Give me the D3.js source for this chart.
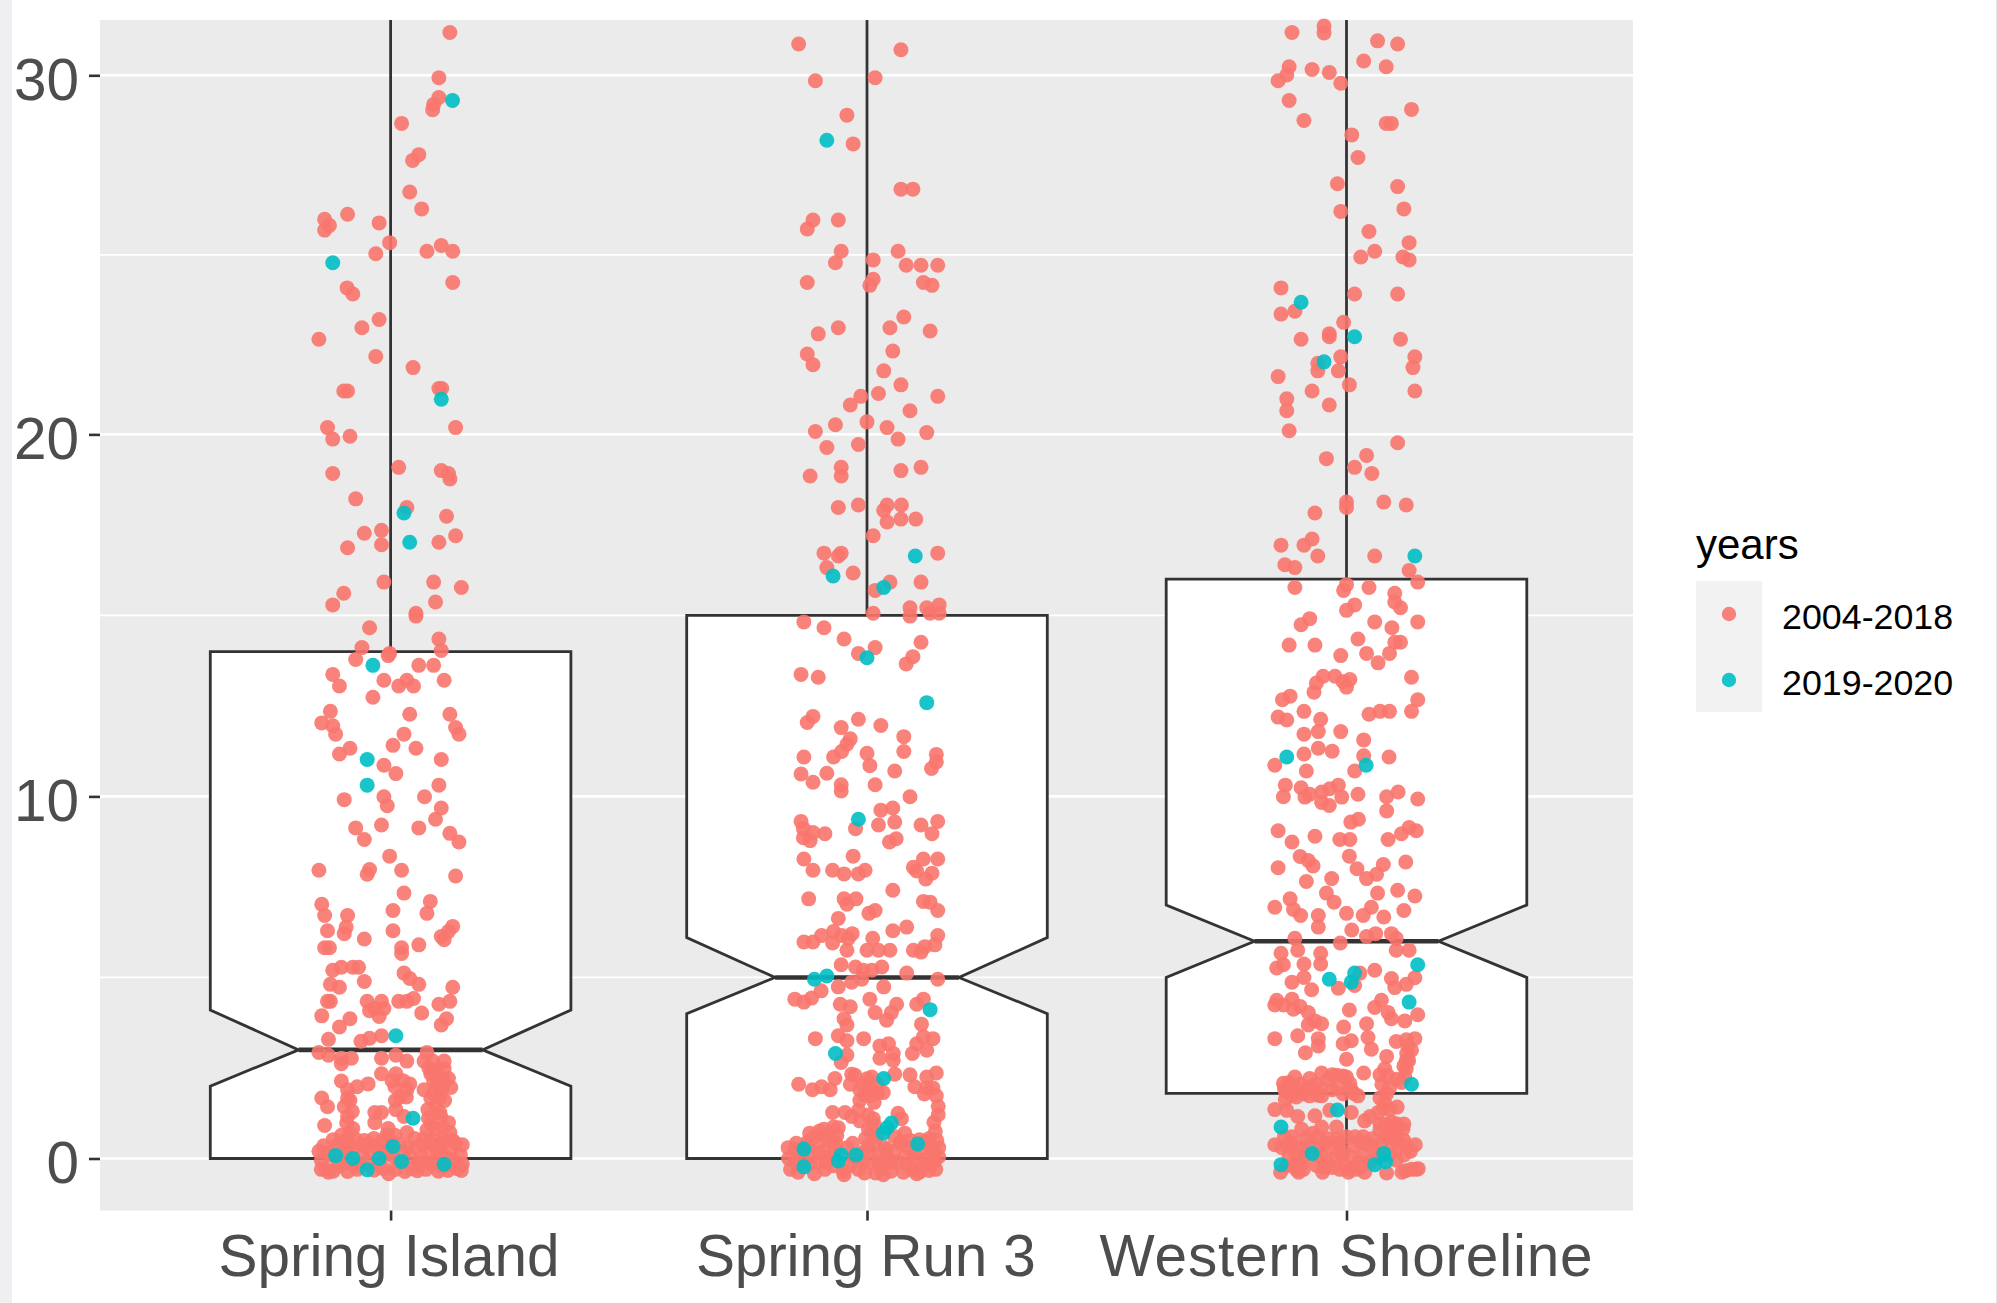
<!DOCTYPE html>
<html><head><meta charset="utf-8">
<script src="https://cdn.jsdelivr.net/npm/d3@7"></script>
<style>html,body{margin:0;padding:0;background:#fff}svg{display:block}</style>
</head><body><div id="chart"></div>
<script>
// ---- data: [jitter in hundredths of a category step, value] ----
const categories = ["Spring Island", "Spring Run 3", "Western Shoreline"];
const yearGroups = ["2004-2018", "2019-2020"];
const yTicks = [0, 10, 20, 30];
const yMinorTicks = [5, 15, 25];
const boxLower = [0, 0, 1.8];
const notchLower = [2, 4, 5];
const boxMiddle = [3, 5, 6];
const notchUpper = [4.1, 6.1, 7];
const boxUpper = [14, 15, 16];
const whiskerLow = [0, 0, 0];
const whiskerHigh = [36, 37, 40];

const islandEarlier = [[12.4,31.19],[10.1,29.93],[10.1,29.38],[9,29.19],[8.8,29.04],[2.3,28.66],[5.9,27.79],[4.6,27.63],[4,26.75],[6.5,26.28],[-9,26.13],[-2.4,25.89],[-13.8,25.99],[-12.8,25.82],[-13.8,25.69],[-.2,25.34],[10.6,25.26],[7.6,25.1],[13,25.1],[-3.1,25.03],[13,24.23],[-9.1,24.08],[-7.9,23.91],[-2.4,23.2],[-6,22.97],[-15,22.65],[-3.1,22.17],[4.7,21.86],[-9,21.21],[-9.8,21.21],[10.1,21.28],[10.7,21.28],[-13.2,20.19],[13.6,20.19],[-8.5,19.95],[-12.1,19.87],[1.7,19.09],[-12.1,18.92],[10.6,19],[12.1,18.92],[12.4,18.77],[-7.3,18.22],[3.4,17.98],[11.7,17.74],[-1.9,17.35],[-5.5,17.27],[13.6,17.2],[-1.9,16.95],[-9,16.87],[10.1,17.02],[-1.4,15.92],[9,15.92],[14.8,15.77],[-9.8,15.61],[9.4,15.37],[-12.1,15.29],[5.3,15.06],[5.3,14.98],[-4.4,14.66],[10.1,14.35],[-6,14.11],[10.6,14.03],[-.2,13.95],
[-7.3,13.78],[-.5,13.89],[5.9,13.62],[9,13.62],[-12.1,13.37],[-10.7,13.05],[-1.4,13.21],[1.7,13.05],[3.4,13.21],[4.8,13.05],[11.2,13.21],[-3.7,12.74],[-12.6,12.35],[4,12.27],[12.4,12.27],[-14.4,12.03],[-12.1,11.95],[-11.5,11.72],[13.6,11.9],[14.3,11.72],[2.8,11.72],[.5,11.41],[5.3,11.33],[-8.5,11.33],[-10.7,11.17],[10.6,11.02],[-1.4,10.86],[1.1,10.63],[10.1,10.31],[7.1,9.99],[-1.4,9.99],[-9.7,9.91],[-.7,9.74],[10.6,9.68],[9.4,9.37],[-1.9,9.21],[-7.3,9.13],[5.9,9.13],[12.4,8.98],[-5.5,8.81],[14.3,8.74],[-.2,8.35],[-15,7.96],[-4.4,7.98],[-4.9,7.85],[2.3,7.96],[13.6,7.8],[2.8,7.33],[8.3,7.1],[-14.4,7.02],[.5,6.85],[7.6,6.77],[-13.8,6.71],[-9,6.71],[13,6.41],[-13.2,6.29],[-9.3,6.39],[-9.7,6.21],[.5,6.29],[12.1,6.27],[10.6,6.13],[11.2,6.04],[-5.5,6.06],[5.9,5.9],[2.3,5.82],[-13.8,5.82],[-12.8,5.82],[2.3,5.66],[-12.1,5.2],[-10.3,5.28],[-7.9,5.28],[-6.7,5.28],[2.8,5.12],[4,4.97],[5.9,4.81],[-12.6,4.81],[-10.7,4.73],[-5.5,4.89],[13,4.73],[-4.9,4.34],[-12.6,4.34],[-13.2,4.34],[-1.9,4.34],[1.7,4.34],[3.4,4.34],[4.8,4.42],[12.4,4.34],[10.1,4.26],[-3.3,4.14],[-1.4,4.14],[-2.4,3.92],[-4.4,4.08],[6.5,4.02],[-14.4,3.94],[-8.5,3.86],[11.7,3.86],[10.6,3.69],[-10.7,3.63],[-1.9,3.39],[-4.4,3.32],[-6.2,3.24],[-13,3.29],[7.6,2.93],[-15,2.93],[-13,2.85],[-10.3,2.77],[-8.2,2.77],[-10.3,2.62],[-1.9,2.77],[1.1,2.85],[3.4,2.69],[7,2.69],[8.8,2.69],[11.2,2.69],[-1.9,2.34],[1.1,2.34],[8.4,2.34],[11.2,2.48],[12.1,2.21],[-10.3,2.14],[-4.7,2.06],[-7,1.98],[-9,1.9],[.9,1.98],[4,2.06],[7,1.9],[3.4,1.9],[10.7,1.9],[12.6,1.96],[9.8,2.06],[-14.4,1.67],[-9,1.67],[8.4,1.67],[10.3,1.67],[-13.2,1.43],[-9.7,1.43],[-9,1.16],[1.1,1.35],[-3.3,1.27],[-1.9,1.27],[2.8,1.16],[7.9,1.11],[10.3,1.27],[-3.3,.99],[-.5,.83],[-13.8,.91],[-7.9,.83],[12.1,.99],[-10.3,.64],[.9,.64],[3.4,.72],[7.6,.79],[12.4,.72],
[8,2.5],[9.5,2.45],[11,2.2],[9,2.15],[10.8,1.98],[9,1.8],[11.3,1.6],[9.4,1.45],[7.8,1.35],[10.5,1.15],[8.5,.95],[9.5,.82],[11,.85],[-8.5,1.6],[-8,1.3],[-9.2,.98],[-8.6,.7],[-9.5,.5],[-7.5,.55],[-5.5,.5],[-3.5,.55],[-1.5,.5],[-.8,.65],[1,1.6],[2,1.7],[.3,2.15],[2.6,2.15],[3.3,1.7],[-.2,.5],[5,.55],[7,.55],[9,.52],[11,.5],[13,.5],[-12,.52],
[-15,.2],[-14.5,-.05],[-14,.35],[-13.5,-.3],[-12.6,.1],[-12,-.35],[-11,.38],[-10.5,-.2],[-9.8,.25],[-9,-.36],[-8.6,.4],[-7.5,.3],[-7,-.3],[-6,.38],[-5.8,.1],[-5,-.1],[-4.5,.42],[-3.5,-.32],[-3,.3],[-2,.4],[-1.4,-.28],[-.8,.12],[-.4,-.42],[.6,.05],[1,-.3],[1.8,.4],[2.8,.2],[3,-.36],[4,.05],[4.6,-.28],[5.4,.32],[5.6,-.34],[6.4,.05],[6.8,.38],[7.4,-.3],[8,.2],[8.4,.42],[9,-.1],[9.5,.3],[10,-.35],[10.8,.42],[11.4,.05],[12,-.33],[12.6,.25],[13,-.05],[13.6,.42],[14,-.28],[14.6,.1],[15,.38],[15,-.15],[-13,.15],[-11,-.1],[-9,.1],[-8,-.15],[-6.5,-.2],[-4.4,.2],[-2.5,-.15],[-1.5,.15],[0,.2],[2,-.1],[3.6,.32],[6,-.1],[8.4,-.15],[10,.15],[11,-.2],[12.5,-.15],[14.8,-.33],[-14.5,-.3],[-13,-.38]];
const islandRecent = [[12.95,29.3],[-12.1,24.78],[10.6,20.98],[2.8,17.83],[4,17.02],[-3.7,13.62],[-4.9,11.02],[-4.9,10.31],[1.1,3.39],[4.7,1.11],[-11.5,.08],[-7.9,0],[-2.4,0],[.5,.33],[2.3,-.08],[-4.9,-.31],[11.2,-.16]];

const runEarlier = [[-14.3,30.87],[7.1,30.71],[-10.8,29.85],[1.7,29.93],[-4.2,28.89],[-2.9,28.09],[7.1,26.83],[9.6,26.83],[-11.3,25.97],[-6,25.97],[-12.5,25.72],[-5.4,25.1],[6.5,25.1],[1.3,24.86],[-6.6,24.78],[8.2,24.71],[11.3,24.71],[14.8,24.71],[-12.5,24.23],[1.3,24.32],[.6,24.15],[11.8,24.23],[13.6,24.15],[7.7,23.27],[-6,22.97],[4.8,22.97],[-10.2,22.8],[13.2,22.88],[5.4,22.32],[-12.5,22.24],[-11.3,21.94],[3.5,21.77],[7.1,21.38],[-1.3,21.06],[2.4,21.14],[14.8,21.06],[-3.5,20.82],[9,20.66],[0,20.35],[-6.6,20.27],[4.2,20.19],[-10.8,20.08],[12.5,20.05],[6.5,19.87],[-1.8,19.72],[-8.4,19.64],[-5.4,19.09],[7.1,19],[11.3,19.09],[-5.4,18.85],[-11.9,18.85],[-1.8,18.05],[4.2,18.05],[7.2,18.05],[-6,17.98],[3.5,17.9],[4.2,17.58],[7.1,17.66],[10.2,17.66],[1.3,17.2],[-9,16.72],[-5.4,16.72],[-6,16.64],[14.8,16.72],[-8.4,16.32],[-2.9,16.17],[4.8,15.92],[11.3,15.92],[1.7,15.69],[9,15.21],[12.5,15.21],[15.1,15.29],[13.2,15.06],[15.1,15.06],[9,14.98],[1.3,15.06],[-13.2,14.82],[-9,14.66],[-4.8,14.35],[11.3,14.26],[1.7,14.11],[-1.8,13.95],
[9.6,13.86],[8.2,13.66],[-13.8,13.37],[-10.2,13.29],[-11.3,12.21],[-12.5,12.04],[-1.8,12.13],[2.9,11.96],[-5.4,11.9],[7.7,11.65],[-3.5,11.59],[-4.2,11.44],[7.7,11.24],[0,11.19],[-5.3,11.24],[-7,11.09],[-13.2,11.09],[14.5,11.16],[14.5,10.95],[.6,10.85],[5.8,10.7],[13.5,10.77],[-13.8,10.62],[-8.4,10.64],[-11.3,10.39],[-5.4,10.32],[1.7,10.32],[-5.4,10.15],[9,9.99],[2.9,9.62],[5.4,9.68],[-13.8,9.31],[5.8,9.29],[14.8,9.31],[2.4,9.21],[11.3,9.21],[-13.3,9.11],[-2.4,9.11],[-11.3,9],[-8.8,8.97],[13.6,8.97],[-13.3,8.86],[-11.9,8.78],[6.1,8.83],[4.7,8.74],[-2.9,8.35],[-13.2,8.27],[11.8,8.27],[14.8,8.27],[-11.3,7.96],[-7.2,7.96],[9.7,8.04],[-.4,7.96],[-4.8,7.86],[-1.8,7.86],[13.6,7.88],[10.4,7.94],[12.3,7.72],[5.4,7.41],[-12.2,7.17],[-4.8,7.17],[-2.3,7.17],[11.8,7.1],[13.2,7.08],[-4.2,7.02],[14.8,6.85],[1.7,6.85],[.4,6.77],[-6,6.63],[8.3,6.39],[5.4,6.29],[-7,6.27],[-3.1,6.21],[-9.5,6.16],[14.8,6.16],[-5.3,6.16],[1.2,6.08],[-13.2,5.98],[-11.3,5.98],[-7.2,5.95],[-3.9,6.08],[14.2,5.9],[12.1,5.85],[-4.2,5.75],[0,5.75],[2.4,5.75],[4.8,5.75],[9.7,5.75],[11.3,5.7],[-5.4,5.35],[-2.4,5.29],[3.1,5.29],[-.8,5.2],[1,5.2],[8.3,5.12],[14.8,4.95],[-1.1,4.95],[-3.2,4.87],[-6,4.74],[3.5,4.74],[-9.6,4.63],[.6,4.4],[-11.6,4.43],[-15.1,4.4],[-13.2,4.32],[11.8,4.4],[6.2,4.26],[-5.6,4.26],[-3.5,4.19],[10.4,4.26],[1.7,4.03],[5.1,4.03],[4.1,3.82],[-4.8,3.86],[-4.2,3.69],[11.4,3.71],[-6,3.39],[-10.8,3.31],[-.7,3.31],[-4.2,3.25],[13.8,3.31],[11.8,3.36],[10.4,3.17],[4.5,3.17],[2.7,3.11],[12.5,2.99],[9.5,2.9],[5.5,2.9],[-4.2,2.86],[2.7,2.77],[5.5,2.71],[-5.4,2.65],[-3.2,2.33],[14.5,2.36],[5.8,2.33],[9,2.31],[12.5,2.25],[-6.7,2.21],[1,2.25],[-14.3,2.05],[-3.5,2.05],[-.8,2.05],[-9.5,1.98],[10,1.98],[-11.4,1.9],[-7.7,1.9],[3.4,1.82],[.6,1.73],[14.5,1.73],[14.9,1.44],[14.9,1.21],[-7.2,1.27],[-4.6,1.27],[-1.8,1.33],[6.5,1.25],[-3.2,1.16],[-1.5,1.04],[1.3,1.1],[7.2,1.1],[-7,.87],[-9,.81],[1,.75],[14.3,.75],[-12,.7],[-6.3,.64],[7.9,.7],
[-2.5,2.3],[-1.5,1.9],[0,2.2],[.8,1.95],[-.5,1.75],[2,2.05],[2.2,1.8],[-1.5,1.6],[1.5,1.55],[.2,1.2],[1.5,.95],[.3,.8],[2,.6],[-.3,.55],[-11,.6],[-10,.75],[-8,.6],[-6,.85],[-7.2,.45],[-12.5,.45],[-14.8,.42],[5.8,.6],[7,.45],[9,.5],[11,.52],[13,.55],[14.6,.5],[14,1],[12.5,1.95],[13.8,1.95],[12,1.78],
[-16.5,.3],[-16.4,0],[-16,-.3],[-15,.25],[-15,-.1],[-14.4,-.38],[-13.5,.02],[-12.2,.35],[-12,-.15],[-11.5,.1],[-11,-.42],[-10.4,.4],[-10,-.1],[-9,.2],[-8.8,-.3],[-8,.5],[-7.6,.05],[-7,-.2],[-6.5,.42],[-5,-.35],[-4.8,-.45],[-4.2,.3],[-3.6,-.2],[-3,.42],[-1.8,-.3],[-1,.15],[-.5,-.4],[.2,.35],[.6,-.1],[1.5,.45],[1.8,-.4],[2.4,.1],[3,-.3],[3.4,-.45],[3.8,.3],[4.4,0],[5,-.35],[5.6,.2],[6.2,-.1],[7,.4],[7.6,-.38],[8,.05],[8.8,.3],[9.4,-.3],[10,0],[10.4,-.42],[11,.2],[11.6,-.2],[12.2,.45],[12.6,0],[13,-.33],[13.6,.3],[14,-.1],[14.4,-.3],[15,.3],[15,.05],[-10,.15],[-8.5,-.1],[-6.8,.2],[-2.8,.05],[-.8,-.1],[.7,.2],[2.5,-.1],[4,.25],[5,-.1],[8.4,-.15],[9.8,.15],[11,-.38],[12.6,-.15],[14,.15],[-14,.2]];
const runRecent = [[-8.4,28.19],[10.1,16.64],[-7.1,16.09],[3.5,15.77],[0,13.83],[12.5,12.59],[-1.8,9.37],[-8.4,5.04],[-11,4.95],[13.2,4.11],[-6.6,2.9],[3.5,2.21],[5.1,.98],[4.2,.85],[3.4,.7],[10.6,.4],[-13.2,.26],[-5.4,.1],[-2.3,.1],[-6,-.07],[-13.2,-.23]];

const shoreEarlier = [[-11.4,31.19],[-4.7,31.37],[-4.7,31.18],[6.5,30.96],[10.7,30.87],[3.6,30.4],[-12,30.24],[8.3,30.24],[-7.2,30.16],[-3.6,30.08],[-12.5,30.01],[-14.3,29.85],[-1.2,29.78],[-12,29.3],[13.6,29.05],[-8.9,28.74],[8.3,28.66],[9.4,28.66],[1.1,28.34],[2.4,27.71],[-1.9,26.98],[10.7,26.9],[-1.2,26.21],[12,26.28],[4.7,25.65],[13.1,25.34],[5.9,25.1],[3,24.94],[11.8,24.94],[13.1,24.86],[-13.7,24.08],[1.7,23.91],[10.7,23.91],[-10.8,23.43],[-13.7,23.35],[-.6,23.12],[-3.6,22.8],[-3.6,22.72],[-9.5,22.65],[11.3,22.65],[-1.2,22.16],[14.3,22.16],[-6,21.98],[13.9,21.86],[-6,21.77],[-1.7,21.77],[-14.3,21.61],[.6,21.38],[-7.2,21.21],[14.3,21.21],[-12.5,20.99],[-3.6,20.82],[-12.5,20.66],[-12,20.1],[10.7,19.77],[4.2,19.42],[-4.2,19.33],[1.7,19.09],[5.3,18.92],[7.8,18.13],[0,18.13],[0,17.98],[12.5,18.05],[-6.6,17.83],[-7.2,17.11],[-13.7,16.94],[-8.9,16.94],[-6,16.64],[5.9,16.64],[-12.9,16.4],[-10.8,16.32],[13.1,16.24],[14.9,15.92],[0,15.85],[-.6,15.69],[-10.8,15.77],[4.7,15.77],[10.1,15.61],[10.1,15.37],[11.3,15.21],[1.7,15.29],[0,15.14],[-7.7,14.91],[-9.5,14.74],[5.9,14.82],[14.9,14.82],[9.5,14.66],[11.3,14.26],[10.1,14.26],[2.4,14.35],[-12,14.18],[-6.6,14.18],[-1.2,13.89],[4.2,13.95],[9,13.95],
[6.6,13.69],[-4.9,13.32],[-6.3,13.13],[-2.4,13.32],[-.7,13.17],[.7,13.23],[0,13.02],[-6.8,12.88],[13.6,13.29],[14.9,12.67],[-11.8,12.77],[-13.4,12.67],[-8.9,12.35],[13.6,12.35],[4.7,12.27],[7,12.35],[9,12.35],[-14.3,12.19],[-12.5,12.11],[-5.4,12.13],[-5.9,11.79],[-1.2,11.79],[-8.9,11.72],[3.6,11.56],[-5.9,11.33],[-3,11.25],[-8.9,11.17],[3.6,11.12],[8.9,11.09],[-15,10.86],[1.7,10.7],[-8.4,10.7],[-12.8,10.31],[-9.5,10.24],[-1.7,10.31],[-3.5,10.21],[-5.2,10.12],[-7.7,10.06],[10.8,10.12],[8.4,9.99],[2.4,10.06],[-13.2,9.99],[-8.7,9.98],[-1,9.98],[14.9,9.93],[-5.2,9.83],[-3.6,9.75],[8.4,9.6],[2.5,9.37],[.9,9.29],[13.1,9.14],[14.6,9.05],[-14.3,9.05],[11.5,8.97],[-6.6,8.9],[-1.4,8.81],[.7,8.81],[8.7,8.81],[-11.4,8.74],[-9.7,8.34],[.6,8.35],[-8,8.23],[12.4,8.19],[7.7,8.12],[-7,8.08],[-14.3,8.03],[2.2,8],[6.3,7.85],[4.2,7.73],[-3.1,7.73],[-8.4,7.65],[10.7,7.41],[6.5,7.33],[-4.2,7.33],[14.3,7.25],[-11.8,7.17],[-2.6,7.08],[-15,6.94],[5.2,6.94],[-11.1,6.88],[12,6.85],[0,6.77],[-9.6,6.71],[-5.9,6.71],[3.5,6.71],[7.8,6.67],[-5.9,6.39],[1.1,6.31],[6.1,6.21],[9.4,6.21],[4.2,6.13],[-10.8,6.08],[10.4,6.08],[-1.3,5.95],[-10.2,5.75],[10.4,5.75],[13.1,5.75],[-13.7,5.67],[-5.4,5.67],[-8.9,5.37],[-5.4,5.37],[-13.2,5.35],[-14.6,5.26],[5.9,5.2],[2.8,5.12],[14.3,4.99],[-8.9,5],[-11.4,4.87],[9.4,4.97],[12.5,4.81],[10.1,4.72],[-7.3,4.66],[-1.7,4.7],[1.7,4.78],[-14.6,4.37],[-11.4,4.4],[7.3,4.37],[-15,4.24],[-13.2,4.24],[-9.7,4.2],[-11.1,4.12],[5.9,4.17],[.6,4.1],[-8,4.03],[8.7,4.03],[14.9,3.97],[9.4,3.86],[12.2,3.8],[-6.6,3.8],[-5.2,3.72],[-8,3.69],[4.2,3.72],[-.6,3.63],[-15,3.31],[-10.2,3.39],[-5.9,3.31],[4.5,3.34],[14.3,3.31],[10.4,3.23],[12.5,3.28],[1,3.25],[-.7,3.17],[-5.9,3.11],[5.2,3.02],[13.6,2.99],[-8.6,2.92],[8.4,2.82],[0,2.74],[12.5,2.71],[12.5,2.48],[3.6,2.36],[7,2.31],[8,2.48],[-5.2,2.36],[-3,2.31],[-10.8,2.25],[-.7,2.28],[-7.7,2.21],[-13.2,2.08],[10.4,2.19],[.7,2.08],[-5.2,1.96],[-10.4,1.9],[-12.8,1.85],[-7.7,1.73],[-5.2,1.73],[-.7,1.79],[2.4,1.73],[8.4,1.79],[7,1.67],[-12.8,1.62],[-15,1.35],[-12.5,1.33],[10.6,1.42],[7.7,1.39],[-3.5,1.33],[1,1.27],[6.6,1.27],[-6.6,1.18],[-10.2,1.16],[4.9,1.16],[3.8,1.04],[-2.1,.87],[-5.2,.87],[-9.4,.81],[9.4,.87],[7,.79],[11.8,.81],[-7,.7],[9.7,.64],[8.4,.58],
[-13,1.95],[-12,2.1],[-11.5,1.75],[-10.5,1.7],[-9.5,2.05],[-9,1.78],[-8,1.95],[-6.5,2.05],[-6,1.75],[-3.8,2.2],[-3,1.9],[-2,2.3],[-1.8,1.95],[0,2.25],[1,1.9],[1.5,1.8],[7.4,2.05],[8.6,2.3],[9,1.95],[8,1.55],[9,1.35],[12.8,3.1],[12.6,2.9],[12,2.55],[13,2.7],[12.2,2.25],[11.5,2.1],[7,.95],[8,.95],[9.5,1],[10.5,.95],[12,.95],[8.5,.75],[10.5,.7],[-13,.6],[-11.5,.6],[-8.5,.55],[-6,.6],[-4,.55],[-2,.55],[0,.6],[1.8,.6],[3.5,.6],[5.5,.55],[10.5,.5],[12,.5],
[-15,.38],[-13.5,.3],[-13.8,-.38],[-12.4,.35],[-12,.05],[-11,-.2],[-11.4,.42],[-10.5,.15],[-10,-.38],[-9.6,.3],[-9,-.1],[-9,-.3],[-7.8,.38],[-6,.3],[-6.2,-.2],[-5.4,.05],[-5,-.38],[-4.5,.42],[-4,-.1],[-3.4,.3],[-3,-.25],[-2.2,.05],[-1.8,.42],[-1.4,-.3],[-.6,.2],[-.2,-.2],[.4,-.38],[1,.05],[1.7,.35],[2,-.3],[2.6,-.1],[3,.45],[3.6,.1],[3.8,-.38],[4.6,.38],[5,-.1],[5.6,.3],[6.6,.05],[7.2,.38],[8.4,-.4],[9,.1],[9.6,.42],[10.4,-.05],[10.8,.3],[11.6,-.38],[12,.1],[12.6,.35],[12.4,-.34],[13.4,.2],[13.6,-.3],[14.4,.38],[14.6,-.3],[15,-.28],[-12.5,-.2],[-10.5,-.3],[-9.8,-.2],[-8.8,.1],[-6.5,.1],[-4.6,-.25],[-1,.1],[.8,-.3],[3,-.25],[7.7,.1]];
const shoreRecent = [[-9.5,23.68],[1.7,22.72],[-4.7,22.02],[14.3,16.64],[-12.5,11.09],[4.1,10.86],[14.9,5.35],[1.7,5.12],[-3.6,4.95],[1,4.87],[13.1,4.32],[13.6,2.05],[-1.9,1.34],[-13.7,.87],[-7.2,.14],[7.8,.14],[8.2,-.09],[5.9,-.17],[-13.7,-.17]];

const earlierByCategory = [islandEarlier, runEarlier, shoreEarlier];
const recentByCategory = [islandRecent, runRecent, shoreRecent];

// ---- layout & style ----
const W = 1997, H = 1303;
const panel = {left: 100, right: 1633, top: 20, bottom: 1210.6};
const categoryStep = 478;
const boxHalf = 180.3;
const colors = d3.scaleOrdinal().domain(yearGroups).range(["#F8766D", "#00BFC4"]);
const ink = "#333333";
const fontFamily = "'Liberation Sans', Arial, sans-serif";
const labelWidths = [341, 340, 493];
const labelShift = [-2, -1.6, -0.9];

const x = d3.scaleOrdinal().domain(categories).range([390.6, 867, 1346.5]);
const y = d3.scaleLinear().domain(yTicks).range([1158.5, 796.4, 434.4, 75.3]);

const svg = d3.select("#chart").append("svg").attr("width", W).attr("height", H);
svg.append("rect").attr("width", W).attr("height", H).attr("fill", "#fff");
svg.append("rect").attr("width", 12).attr("height", H).attr("fill", "#EFEFF2");
svg.append("rect").attr("x", W - 1).attr("width", 1).attr("height", H).attr("fill", "#E4E4E6");

svg.append("clipPath").attr("id", "panelClip").append("rect")
  .attr("x", panel.left).attr("y", panel.top)
  .attr("width", panel.right - panel.left).attr("height", panel.bottom - panel.top);

svg.append("rect").attr("x", panel.left).attr("y", panel.top)
  .attr("width", panel.right - panel.left).attr("height", panel.bottom - panel.top)
  .attr("fill", "#EBEBEB");

const grid = svg.append("g").attr("stroke", "#fff");
grid.selectAll("line.minor").data(yMinorTicks).join("line").attr("class", "minor")
  .attr("x1", panel.left).attr("x2", panel.right).attr("y1", y).attr("y2", y).attr("stroke-width", 1.8);
grid.selectAll("line.major").data(yTicks).join("line").attr("class", "major")
  .attr("x1", panel.left).attr("x2", panel.right).attr("y1", y).attr("y2", y).attr("stroke-width", 2.6);
grid.selectAll("line.vert").data(categories).join("line").attr("class", "vert")
  .attr("x1", x).attr("x2", x).attr("y1", panel.top).attr("y2", panel.bottom).attr("stroke-width", 2.6);

const boxes = svg.append("g").attr("clip-path", "url(#panelClip)");
categories.forEach((cat, i) => {
  const c = x(cat), inner = boxHalf * 0.51;
  const g = boxes.append("g").attr("fill", "none").attr("stroke", ink).attr("stroke-width", 2.8);
  g.append("line").attr("x1", c).attr("x2", c).attr("y1", y(whiskerHigh[i])).attr("y2", y(boxUpper[i]));
  g.append("line").attr("x1", c).attr("x2", c).attr("y1", y(boxLower[i])).attr("y2", y(whiskerLow[i]));
  const outline = d3.path();
  outline.moveTo(c - boxHalf, y(boxLower[i]));
  outline.lineTo(c - boxHalf, y(notchLower[i]));
  outline.lineTo(c - inner, y(boxMiddle[i]));
  outline.lineTo(c - boxHalf, y(notchUpper[i]));
  outline.lineTo(c - boxHalf, y(boxUpper[i]));
  outline.lineTo(c + boxHalf, y(boxUpper[i]));
  outline.lineTo(c + boxHalf, y(notchUpper[i]));
  outline.lineTo(c + inner, y(boxMiddle[i]));
  outline.lineTo(c + boxHalf, y(notchLower[i]));
  outline.lineTo(c + boxHalf, y(boxLower[i]));
  outline.closePath();
  g.append("path").attr("d", outline.toString()).attr("fill", "#fff");
  g.append("line").attr("x1", c - inner).attr("x2", c + inner)
    .attr("y1", y(boxMiddle[i])).attr("y2", y(boxMiddle[i])).attr("stroke-width", 4.6);
});

const jitterX = (cat, j) => x(cat) + j / 100 * categoryStep;
const dots = svg.append("g");
function drawPoints(lists, group) {
  categories.forEach((cat, i) => {
    dots.append("g").selectAll("circle").data(lists[i]).join("circle")
      .attr("cx", d => jitterX(cat, d[0])).attr("cy", d => y(d[1]))
      .attr("r", 7.5).attr("fill", colors(group)).attr("fill-opacity", 0.9);
  });
}
drawPoints(earlierByCategory, yearGroups[0]);
drawPoints(recentByCategory, yearGroups[1]);

const yAxis = svg.append("g").attr("transform", `translate(${panel.left},0)`)
  .call(d3.axisLeft(y).tickValues(yTicks).tickFormat(d3.format("d")).tickSize(11).tickPadding(10));
const xAxis = svg.append("g").attr("transform", `translate(0,${panel.bottom})`)
  .call(d3.axisBottom(x).tickSize(10).tickPadding(13.4));
[yAxis, xAxis].forEach(a => {
  a.select(".domain").remove();
  a.selectAll("line").attr("stroke", ink).attr("stroke-width", 2.6);
  a.selectAll("text").attr("fill", "#4D4D4D").style("font-family", fontFamily).style("font-size", "58.5px");
});
yAxis.selectAll("text").attr("dy", "0.41em");
xAxis.selectAll("text")
  .attr("textLength", (d, i) => labelWidths[i]).attr("lengthAdjust", "spacing")
  .attr("x", (d, i) => labelShift[i]);

const legend = svg.append("g").style("font-family", fontFamily);
legend.append("text").attr("x", 1696).attr("y", 559).attr("fill", "#000").style("font-size", "42px").text("years");
legend.append("rect").attr("x", 1696).attr("y", 581).attr("width", 66).attr("height", 131).attr("fill", "#F2F2F2");
yearGroups.forEach((grp, i) => {
  legend.append("circle").attr("cx", 1729).attr("cy", 614 + i * 66).attr("r", 7.2)
    .attr("fill", colors(grp)).attr("fill-opacity", 0.9);
  legend.append("text").attr("x", 1782).attr("y", 629 + i * 66).attr("fill", "#000")
    .style("font-size", "35.8px").text(grp);
});
</script></body></html>
